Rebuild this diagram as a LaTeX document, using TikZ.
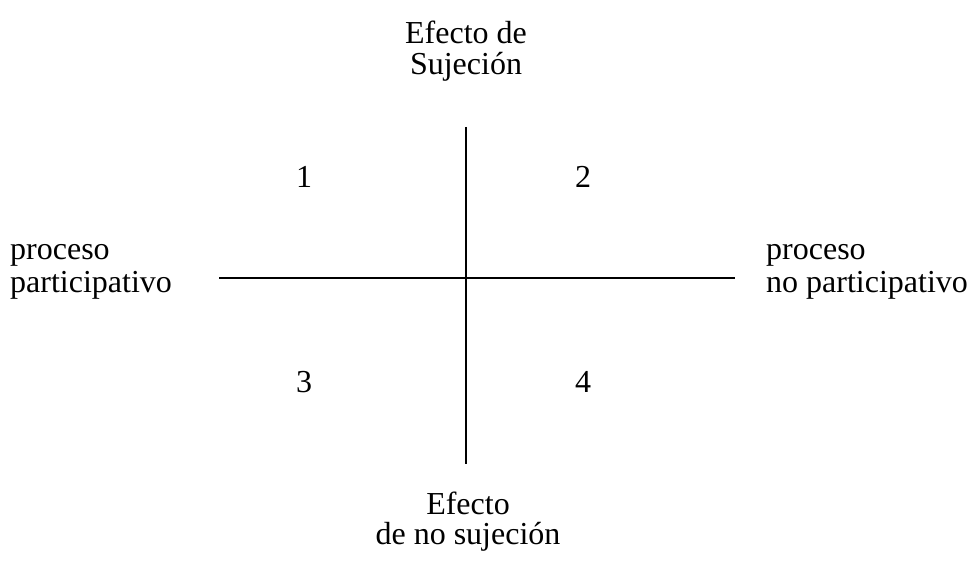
\documentclass[tikz,border=0pt]{standalone}
\usepackage{fontspec}
\setmainfont{Liberation Serif}
\usepackage{tikz}
\usetikzlibrary{positioning}

\begin{document}
\begin{tikzpicture}[x=1pt,y=-1pt,
  txt/.style={inner sep=0pt,anchor=base,font=\fontsize{32}{32}\selectfont},
  axis/.style={line width=1.3pt}]
\useasboundingbox (0,0) rectangle (971,561);

% ejes
\coordinate (izq) at (219,278);
\coordinate (der) at (735,278);
\coordinate (arr) at (466,127);
\coordinate (aba) at (466,464);
\draw[axis] (izq) -- (der);
\draw[axis] (arr) -- (aba);

% arriba
\node (sup1) at (466,44)[txt]{Efecto de};
\node (sup2) at (466,75)[txt]{Sujeción};

% cuadrantes
\node (q1) at (304,188)[txt]{1};
\node (q2) at (583,188)[txt]{2};
\node (q3) at (304,392)[txt]{3};
\node (q4) at (583,392)[txt]{4};

% izquierda
\node (izq1) at (10,260)[txt,anchor=base west]{proceso};
\node (izq2) at (10,292)[txt,anchor=base west]{participativo};

% derecha
\node (der1) at (766,260)[txt,anchor=base west]{proceso};
\node (der2) at (766,292)[txt,anchor=base west]{no participativo};

% abajo
\node (inf1) at (468,514)[txt]{Efecto};
\node (inf2) at (468,544)[txt]{de no sujeción};
\end{tikzpicture}
\end{document}
